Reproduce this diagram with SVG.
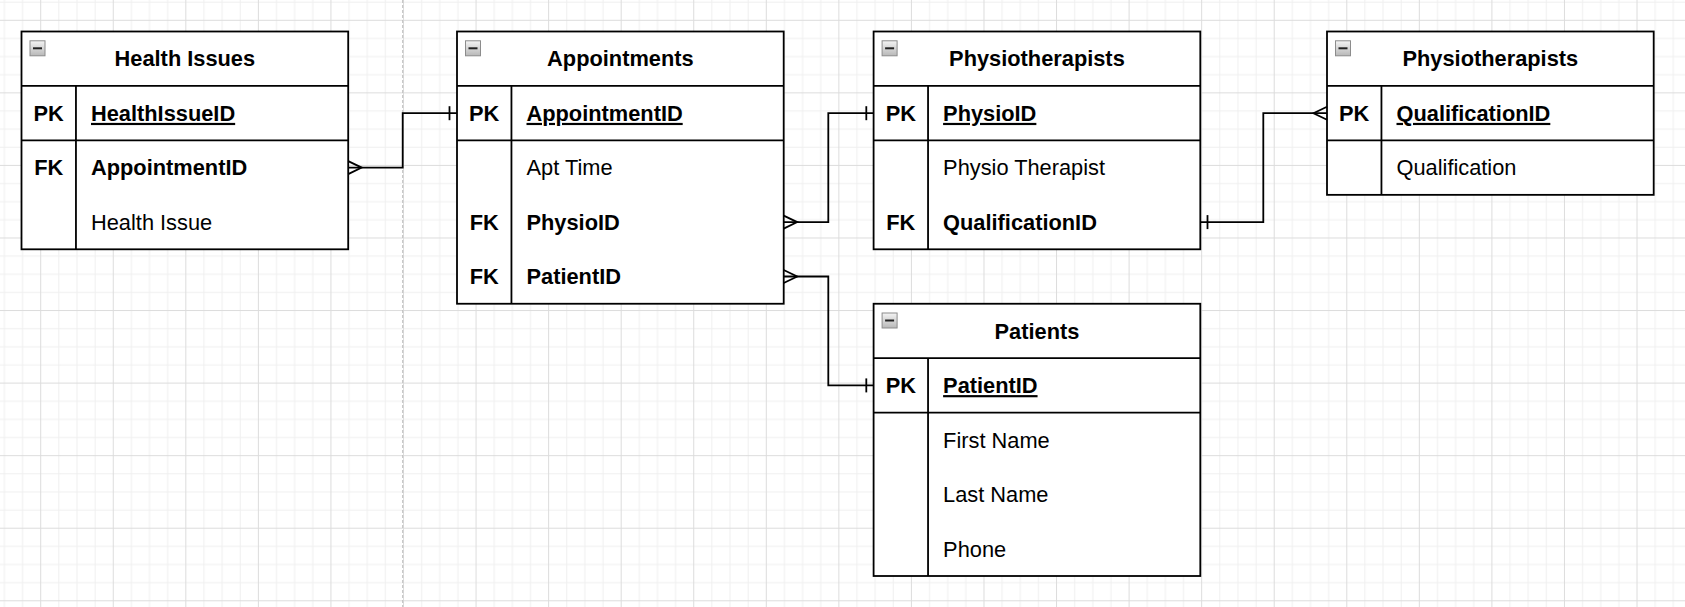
<svg xmlns="http://www.w3.org/2000/svg" xmlns:xlink="http://www.w3.org/1999/xlink" width="1685" height="607" viewBox="0 0 1685 607">
<style>
.frame{fill:#ffffff;stroke:#000000;stroke-width:1.8}
.ln{fill:none;stroke:#000000;stroke-width:1.8}
.title{font-family:"Liberation Sans",Arial,sans-serif;font-size:21.8px;font-weight:bold;text-anchor:middle;fill:#000}
.key{font-family:"Liberation Sans",Arial,sans-serif;font-size:21.8px;font-weight:bold;text-anchor:middle;fill:#000}
.pk{font-family:"Liberation Sans",Arial,sans-serif;font-size:21.8px;font-weight:bold;text-decoration:underline;fill:#000}
.fk{font-family:"Liberation Sans",Arial,sans-serif;font-size:21.8px;font-weight:bold;fill:#000}
.attr{font-family:"Liberation Sans",Arial,sans-serif;font-size:21.8px;fill:#000}
.conn{fill:none;stroke:#000000;stroke-width:1.8}
</style>
<defs>
<pattern id="grid" patternUnits="userSpaceOnUse" x="40.2" y="19.8" width="72.56" height="72.56">
<path d="M18.64 0V72.56M36.78 0V72.56M54.92 0V72.56M0 18.64H72.56M0 36.78H72.56M0 54.92H72.56" stroke="#efefef" stroke-width="1" fill="none"/>
<path d="M0.5 0V72.56M0 0.5H72.56" stroke="#dcdcdc" stroke-width="1" fill="none"/>
</pattern>
<linearGradient id="cg" x1="0" y1="0" x2="0" y2="1">
<stop offset="0" stop-color="#f4f4f4"/>
<stop offset="1" stop-color="#b8b8b8"/>
</linearGradient>
<g id="collapse">
<rect x="0" y="0" width="15" height="15" fill="url(#cg)" stroke="#8c8c8c" stroke-width="1"/>
<path d="M3 7.5H12" stroke="#222" stroke-width="2"/>
</g>
</defs>
<rect x="0" y="0" width="1685" height="607" fill="#ffffff"/>
<rect x="0" y="0" width="1685" height="607" fill="url(#grid)"/>
<line x1="402.7" y1="0" x2="402.7" y2="607" stroke="#bdbdbd" stroke-width="1" stroke-dasharray="3 2"/>

<g id="health-issues">
<rect class="frame" x="21.5" y="31.5" width="326.7" height="217.8"/>
<path class="ln" d="M21.5 85.95H348.2M21.5 140.4H348.2M75.95 85.95V249.3"/>
<use xlink:href="#collapse" x="30" y="40.8"/>
<text class="title" x="184.85" y="66.4">Health Issues</text>
<text class="key" x="48.7" y="120.9">PK</text>
<text class="pk" x="91" y="120.9">HealthIssueID</text>
<text class="key" x="48.7" y="175.3">FK</text>
<text class="fk" x="91" y="175.3">AppointmentID</text>
<text class="attr" x="91" y="229.8">Health Issue</text>
</g>

<g id="appointments">
<rect class="frame" x="457" y="31.5" width="326.7" height="272.25"/>
<path class="ln" d="M457 85.95H783.7M457 140.4H783.7M511.45 85.95V303.75"/>
<use xlink:href="#collapse" x="465.5" y="40.8"/>
<text class="title" x="620.35" y="66.4">Appointments</text>
<text class="key" x="484.2" y="120.9">PK</text>
<text class="pk" x="526.5" y="120.9">AppointmentID</text>
<text class="attr" x="526.5" y="175.3">Apt Time</text>
<text class="key" x="484.2" y="229.8">FK</text>
<text class="fk" x="526.5" y="229.8">PhysioID</text>
<text class="key" x="484.2" y="284.2">FK</text>
<text class="fk" x="526.5" y="284.2">PatientID</text>
</g>

<g id="physiotherapists">
<rect class="frame" x="873.6" y="31.5" width="326.7" height="217.8"/>
<path class="ln" d="M873.6 85.95H1200.3M873.6 140.4H1200.3M928.05 85.95V249.3"/>
<use xlink:href="#collapse" x="882.1" y="40.8"/>
<text class="title" x="1036.95" y="66.4">Physiotherapists</text>
<text class="key" x="900.8" y="120.9">PK</text>
<text class="pk" x="943.1" y="120.9">PhysioID</text>
<text class="attr" x="943.1" y="175.3">Physio Therapist</text>
<text class="key" x="900.8" y="229.8">FK</text>
<text class="fk" x="943.1" y="229.8">QualificationID</text>
</g>

<g id="qualifications">
<rect class="frame" x="1327" y="31.5" width="326.7" height="163.35"/>
<path class="ln" d="M1327 85.95H1653.7M1327 140.4H1653.7M1381.45 85.95V194.85"/>
<use xlink:href="#collapse" x="1335.5" y="40.8"/>
<text class="title" x="1490.35" y="66.4">Physiotherapists</text>
<text class="key" x="1354.2" y="120.9">PK</text>
<text class="pk" x="1396.5" y="120.9">QualificationID</text>
<text class="attr" x="1396.5" y="175.3">Qualification</text>
</g>

<g id="patients">
<rect class="frame" x="873.6" y="303.75" width="326.7" height="272.25"/>
<path class="ln" d="M873.6 358.2H1200.3M873.6 412.65H1200.3M928.05 358.2V576"/>
<use xlink:href="#collapse" x="882.1" y="313"/>
<text class="title" x="1036.95" y="338.7">Patients</text>
<text class="key" x="900.8" y="393.1">PK</text>
<text class="pk" x="943.1" y="393.1">PatientID</text>
<text class="attr" x="943.1" y="447.6">First Name</text>
<text class="attr" x="943.1" y="502">Last Name</text>
<text class="attr" x="943.1" y="556.5">Phone</text>
</g>

<g id="connectors">
<path class="conn" d="M348.2 167.6H402.7V113.2H457"/>
<path class="conn" d="M348.2 161.1L361.7 167.6L348.2 174.1"/>
<path class="conn" d="M449.5 106.2V120.2"/>

<path class="conn" d="M783.7 222.1H828.3V113.2H873.6"/>
<path class="conn" d="M783.7 215.6L797.2 222.1L783.7 228.6"/>
<path class="conn" d="M866.3 106.2V120.2"/>

<path class="conn" d="M783.7 276.5H828.3V385.4H873.6"/>
<path class="conn" d="M783.7 270L797.2 276.5L783.7 283"/>
<path class="conn" d="M866.3 378.4V392.4"/>

<path class="conn" d="M1200.3 222.1H1263.3V113.2H1327"/>
<path class="conn" d="M1207.5 215.1V229.1"/>
<path class="conn" d="M1327 106.7L1313.5 113.2L1327 119.7"/>
</g>
</svg>
